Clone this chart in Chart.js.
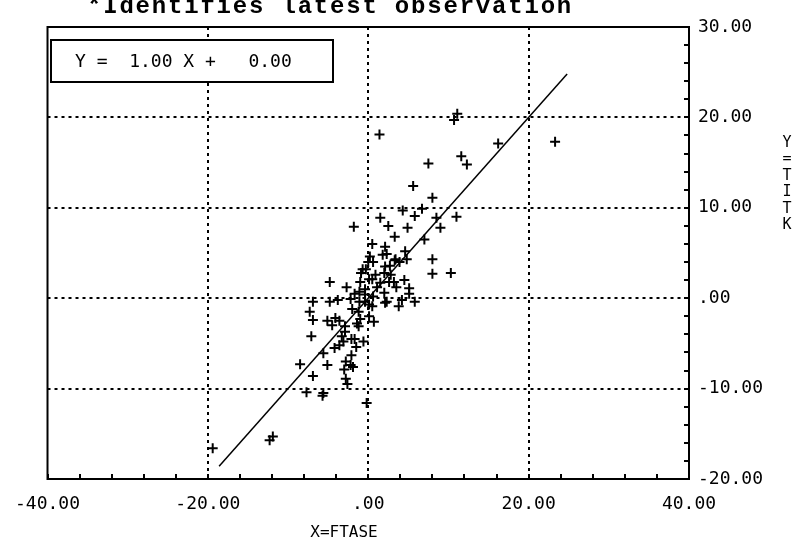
<!DOCTYPE html>
<html>
<head>
<meta charset="utf-8">
<script src="https://cdn.jsdelivr.net/npm/chart.js@4.4.1/dist/chart.umd.min.js"></script>
<style>
  html, body { margin: 0; padding: 0; background: #fff; }
  canvas { display: block; }
</style>
</head>
<body>
<canvas id="ChartCanvas" width="798" height="542"></canvas>
<script>
const obsX = [
    11.1, 10.7, 1.4, 16.2, 23.3, 11.6, 12.3, 7.5, 5.6, 8.0,
    4.3, 6.7, 11.0, 5.8, 8.5, 1.5, -1.8, 2.5, 4.9, 9.0,
    3.3, 7.0, 0.5, 2.1, 2.3, 4.6, 3.4, 4.8, 8.0, 0.0,
    0.6, 2.1, 2.7, -0.3, -0.9, 2.0, 2.8, 8.0, 10.3, 0.1,
    2.6, 4.5, -4.8, -2.7, 3.5, 5.1, -1.1, -0.4, 2.0, 5.1,
    0.6, 0.2, 3.9, 3.3, 0.9, 1.5, 4.2, 5.8, 2.3, 0.1,
    -0.7, 0.5, -0.4, 2.1, 3.8, -6.9, -4.8, -3.8, -7.3, -6.9,
    -7.1, -5.1, -4.5, -3.6, -2.0, -1.1, 0.5, 0.1, 0.7, -1.2,
    -2.9, -2.1, -3.1, -1.5, -0.6, -5.6, -4.2, -2.1, -5.1, -8.5,
    -2.2, -3.0, -6.9, -2.8, -2.6, -7.7, -5.6, -5.7, -0.2, -11.9,
    -12.3, -19.4, -4.1, -2.9, -1.4, -1.0, -3.3, -1.7, -3.6, -1.9,
    -2.8, -1.2, -0.4, 1.8, -1.7, -2.2, 1.1, 3.2, -1.0
];
const obsY = [
    20.4, 19.7, 18.1, 17.1, 17.3, 15.7, 14.8, 14.9, 12.4, 11.1,
    9.7, 9.9, 9.0, 9.1, 8.9, 8.9, 7.9, 8.0, 7.8, 7.8,
    6.8, 6.5, 6.0, 5.7, 4.9, 5.2, 4.3, 4.3, 4.3, 4.0,
    4.0, 3.5, 3.6, 3.2, 2.8, 2.8, 2.6, 2.7, 2.8, 2.1,
    1.8, 2.0, 1.8, 1.2, 1.2, 1.1, 0.7, 0.4, 0.6, 0.5,
    0.2, 4.6, 4.0, 4.2, 2.6, 1.7, -0.2, -0.4, -0.4, -0.7,
    3.2, 2.1, 1.0, -0.5, -0.9, -0.4, -0.4, -0.2, -1.5, -2.4,
    -4.2, -2.5, -3.0, -2.5, -1.2, -0.4, -0.9, -2.0, -2.6, -3.1,
    -3.7, -4.5, -4.8, -5.4, -4.8, -6.1, -5.5, -6.3, -7.4, -7.3,
    -7.4, -7.9, -8.6, -8.9, -9.5, -10.4, -10.5, -10.8, -11.6, -15.3,
    -15.7, -16.6, -2.2, -3.1, -2.8, -2.3, -4.2, -4.5, -5.2, -7.6,
    -7.0, -1.5, -0.4, 4.8, 0.5, -0.1, 1.2, 1.8, 1.8
];

// Fitted line Y = slope * X + intercept
const slope = 1.00;
const intercept = 0.00;
const fitX = [-18.6, 24.8];

// Axes
const xTickValues = [-40, -20, 0, 20, 40];
const yTickValues = [-20, -10, 0, 10, 20, 30];
const xGridValues = [-20, 0, 20];
const yGridValues = [-10, 0, 10, 20];

const titleText = '*Identifies latest observation';
const xTitle = 'X=FTASE';
const yTitle = 'Y=TITK';
const fitLabel = 'Y =  ' + slope.toFixed(2) + ' X +   ' + intercept.toFixed(2);

const MONO = '"DejaVu Sans Mono", "Liberation Mono", monospace';

function FormatTick(v)
{
    // the old plotter prints zero as ".00"
    return v === 0 ? '.00' : v.toFixed(2);
}

// Frame, dotted grid and minor ticks, drawn under the points
const framePlugin = {
    id: 'frame',
    beforeDatasetsDraw(chart)
    {
        const { ctx, chartArea: a, scales: { x, y } } = chart;
        ctx.save();
        ctx.strokeStyle = '#000';
        ctx.lineWidth = 2;

        ctx.setLineDash([3, 4]);
        xGridValues.forEach(v => {
            const px = Math.round(x.getPixelForValue(v));
            ctx.beginPath(); ctx.moveTo(px, a.top); ctx.lineTo(px, a.bottom); ctx.stroke();
        });
        yGridValues.forEach(v => {
            const py = Math.round(y.getPixelForValue(v));
            ctx.beginPath(); ctx.moveTo(a.left, py); ctx.lineTo(a.right, py); ctx.stroke();
        });
        ctx.setLineDash([]);

        // minor ticks: every 4 on X (bottom), every 2 on Y (right)
        for (let v = x.min; v <= x.max; v += 4) {
            const px = Math.round(x.getPixelForValue(v));
            ctx.beginPath(); ctx.moveTo(px, a.bottom); ctx.lineTo(px, a.bottom - 5); ctx.stroke();
        }
        for (let v = y.min; v <= y.max; v += 2) {
            const py = Math.round(y.getPixelForValue(v));
            ctx.beginPath(); ctx.moveTo(a.right, py); ctx.lineTo(a.right - 5, py); ctx.stroke();
        }

        ctx.strokeRect(a.left, a.top, a.right - a.left, a.bottom - a.top);
        ctx.restore();
    },
    afterDraw(chart)
    {
        const { ctx } = chart;
        ctx.save();
        ctx.fillStyle = '#000';
        ctx.strokeStyle = '#000';

        // heading, cut off at the top like the original print
        ctx.font = 'bold 24px "Liberation Mono", monospace';
        ctx.textAlign = 'left';
        ctx.textBaseline = 'alphabetic';
        if ('letterSpacing' in ctx) ctx.letterSpacing = '1.8px';
        ctx.fillText(titleText, 87, 13);
        if ('letterSpacing' in ctx) ctx.letterSpacing = '0px';

        // fit equation box (opaque, hides the grid behind it)
        ctx.fillStyle = '#fff';
        ctx.fillRect(51, 40, 282, 42);
        ctx.fillStyle = '#000';
        ctx.lineWidth = 2;
        ctx.strokeRect(51, 40, 282, 42);
        ctx.font = '18px ' + MONO;
        ctx.textBaseline = 'middle';
        ctx.fillText(fitLabel, 75, 62);

        // x axis title
        ctx.font = '16px ' + MONO;
        ctx.textAlign = 'center';
        ctx.fillText(xTitle, 344, 533);

        // y axis title, letters stacked
        ctx.font = '15px ' + MONO;
        for (let i = 0; i < yTitle.length; i++) {
            ctx.fillText(yTitle[i], 787, 143 + i * 16.5);
        }
        ctx.restore();
    }
};

const ctx = document.getElementById('ChartCanvas').getContext('2d');
new Chart(ctx, {
    type: 'scatter',
    data: {
        datasets: [
            {
                data: obsX.map((v, i) => ({ x: v, y: obsY[i] })),
                pointStyle: 'cross',
                pointRadius: 5,
                pointBorderWidth: 2,
                borderColor: '#000',
                backgroundColor: '#000',
                showLine: false
            },
            {
                type: 'line',
                data: fitX.map(v => ({ x: v, y: slope * v + intercept })),
                borderColor: '#000',
                borderWidth: 1.5,
                pointRadius: 0,
                fill: false
            }
        ]
    },
    options: {
        responsive: false,
        animation: false,
        devicePixelRatio: 1,
        layout: { padding: { top: 27, left: 42, right: 0, bottom: 0 } },
        plugins: { legend: { display: false }, tooltip: { enabled: false } },
        scales: {
            x: {
                type: 'linear',
                position: 'bottom',
                min: -40,
                max: 40,
                afterBuildTicks: s => { s.ticks = xTickValues.map(v => ({ value: v })); },
                afterFit: s => { s.height = 63; },
                grid: { display: false, drawTicks: false },
                border: { display: false },
                ticks: {
                    padding: 15,
                    color: '#000',
                    font: { family: MONO, size: 18 },
                    maxRotation: 0,
                    callback: v => FormatTick(v)
                }
            },
            y: {
                type: 'linear',
                position: 'right',
                min: -20,
                max: 30,
                afterBuildTicks: s => { s.ticks = yTickValues.map(v => ({ value: v })); },
                afterFit: s => { s.width = 109; },
                grid: { display: false, drawTicks: false },
                border: { display: false },
                ticks: {
                    padding: 9,
                    color: '#000',
                    font: { family: MONO, size: 18 },
                    callback: v => FormatTick(v)
                }
            }
        }
    },
    plugins: [framePlugin]
});
</script>
</body>
</html>
